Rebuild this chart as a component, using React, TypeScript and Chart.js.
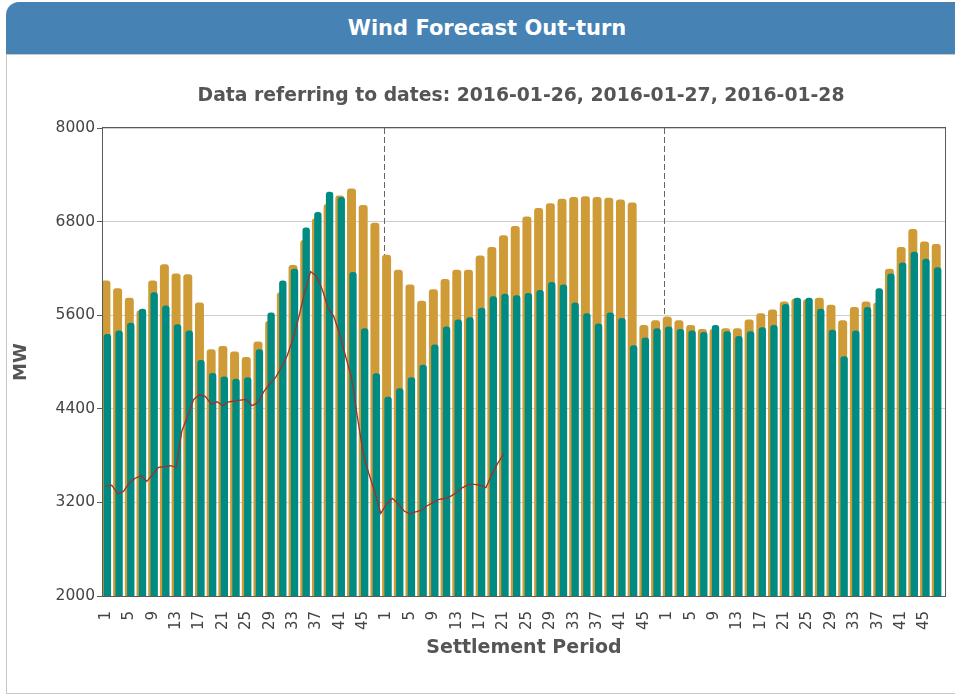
import React, { useEffect, useRef } from 'react';
import { Chart, registerables } from 'chart.js';

Chart.register(...registerables);

const TITLE = 'Wind Forecast Out-turn';
const DATES = ['2016-01-26', '2016-01-27', '2016-01-28'];
const SUBTITLE = 'Data referring to dates: ' + DATES.join(', ');
const X_TITLE = 'Settlement Period';
const Y_TITLE = 'MW';
const PERIODS_PER_DAY = 48;
const Y_MIN = 2000;
const Y_MAX = 8000;
const Y_STEP = 1200;

// Hourly bars are reported on the odd settlement periods
const BAR_PERIODS = [1, 3, 5, 7, 9, 11, 13, 15, 17, 19, 21, 23, 25, 27, 29, 31, 33, 35, 37, 39, 41, 43, 45, 47];
// Period labels shown on the axis for every day
const TICK_PERIODS = [1, 5, 9, 13, 17, 21, 25, 29, 33, 37, 41, 45];

// Forecast (orange)
const forecastDay1 = [6040, 5940, 5820, 5660, 6040, 6250, 6130, 6120, 5760, 5160, 5200, 5130, 5060, 5260, 5520, 5890, 6240, 6560, 6840, 7020, 7130, 7220, 7010, 6780];
const forecastDay2 = [6370, 6180, 5990, 5780, 5930, 6060, 6180, 6180, 6360, 6470, 6620, 6740, 6860, 6970, 7030, 7090, 7110, 7120, 7110, 7100, 7080, 7040, 5470, 5530];
const forecastDay3 = [5580, 5530, 5470, 5420, 5420, 5430, 5430, 5540, 5620, 5670, 5770, 5810, 5800, 5820, 5730, 5530, 5700, 5770, 5760, 6190, 6470, 6700, 6540, 6510];

// Out-turn (teal)
const outturnDay1 = [5355, 5400, 5500, 5680, 5890, 5720, 5480, 5400, 5020, 4855, 4810, 4780, 4800, 5160, 5630, 6040, 6190, 6720, 6920, 7180, 7110, 6150, 5430, 4850];
const outturnDay2 = [4550, 4660, 4800, 4960, 5220, 5450, 5540, 5570, 5690, 5840, 5870, 5850, 5880, 5920, 6020, 5990, 5760, 5620, 5490, 5630, 5560, 5210, 5310, 5430];
const outturnDay3 = [5450, 5420, 5400, 5380, 5470, 5390, 5330, 5390, 5440, 5470, 5740, 5820, 5820, 5680, 5410, 5070, 5400, 5700, 5940, 6130, 6270, 6410, 6320, 6210];

// Half-hourly line (red), periods 1.. of each day
const lineDay1 = [3410, 3420, 3310, 3340, 3450, 3510, 3540, 3470, 3560, 3650, 3660, 3670, 3650, 4120, 4310, 4520, 4580, 4560, 4460, 4490, 4440, 4490, 4500, 4510, 4520, 4440, 4480, 4620, 4720, 4800, 4930, 5080, 5300, 5580, 5900, 6160, 6100, 5930, 5690, 5580, 5350, 5070, 4800, 4300, 3830, 3560, 3330, 3060];
const lineDay2 = [3180, 3250, 3180, 3090, 3050, 3080, 3100, 3160, 3200, 3240, 3250, 3280, 3330, 3390, 3430, 3430, 3420, 3390, 3560, 3700, 3820];

const COLOR_FORECAST = '#CF9B36';
const COLOR_OUTTURN = '#008B82';
const COLOR_LINE = '#A0302B';
const TEXT_FONT = '"DejaVu Sans", Verdana, sans-serif';

const periodIndex = (day: number, period: number) => day * PERIODS_PER_DAY + period - 1;

const barPoints = (days: number[][]) =>
  days.flatMap((vals, d) => vals.map((v, i) => ({ x: periodIndex(d, BAR_PERIODS[i]), y: v })));

const linePoints = (days: number[][]) =>
  days.flatMap((vals, d) => vals.map((v, i) => ({ x: periodIndex(d, i + 1), y: v })));

const TOTAL_PERIODS = DATES.length * PERIODS_PER_DAY;
const TICK_VALUES = DATES.flatMap((_, d) => TICK_PERIODS.map((p) => periodIndex(d, p)));

const subtitlePlugin = {
  id: 'subtitleText',
  afterDraw(chart: any) {
    const { ctx, chartArea } = chart;
    ctx.save();
    ctx.font = `bold 18.8px ${TEXT_FONT}`;
    ctx.fillStyle = '#555555';
    ctx.textAlign = 'center';
    ctx.textBaseline = 'middle';
    ctx.fillText(SUBTITLE, (chartArea.left + chartArea.right) / 2 - 3, 41);
    ctx.restore();
  },
};

const dayLinesPlugin = {
  id: 'dayLines',
  beforeDatasetsDraw(chart: any) {
    const { ctx, chartArea, scales } = chart;
    ctx.save();
    ctx.strokeStyle = '#666666';
    ctx.lineWidth = 1;
    ctx.setLineDash([6, 3]);
    for (let d = 1; d < DATES.length; d++) {
      const x = Math.round(scales.x.getPixelForValue(d * PERIODS_PER_DAY - 0.5)) + 0.5;
      ctx.beginPath();
      ctx.moveTo(x, chartArea.top);
      ctx.lineTo(x, chartArea.bottom);
      ctx.stroke();
    }
    ctx.restore();
  },
};

const framePlugin = {
  id: 'frame',
  afterDatasetsDraw(chart: any) {
    const { ctx, chartArea } = chart;
    const l = Math.round(chartArea.left) - 0.5;
    const t = Math.round(chartArea.top) - 0.5;
    const r = Math.round(chartArea.right) + 0.5;
    const b = Math.round(chartArea.bottom) + 0.5;
    ctx.save();
    ctx.strokeStyle = '#5a5a5a';
    ctx.lineWidth = 1;
    ctx.strokeRect(l, t, r - l, b - t);
    ctx.restore();
  },
};

export default function App() {
  const ref = useRef<HTMLCanvasElement>(null);

  useEffect(() => {
    const chart = new Chart(ref.current as HTMLCanvasElement, {
      type: 'bar',
      data: {
        datasets: [
          {
            type: 'line',
            label: 'Out-turn (half-hourly)',
            data: linePoints([lineDay1, lineDay2]),
            xAxisID: 'x',
            borderColor: COLOR_LINE,
            borderWidth: 1.3,
            pointRadius: 0,
            tension: 0,
            order: 0,
          } as any,
          {
            label: 'Out-turn',
            data: barPoints([outturnDay1, outturnDay2, outturnDay3]),
            xAxisID: 'x2',
            backgroundColor: COLOR_OUTTURN,
            barThickness: 6.7,
            grouped: false,
            borderRadius: 3,
            borderSkipped: 'start',
            order: 1,
          },
          {
            label: 'Forecast',
            data: barPoints([forecastDay1, forecastDay2, forecastDay3]),
            xAxisID: 'x',
            backgroundColor: COLOR_FORECAST,
            barThickness: 8.3,
            grouped: false,
            borderRadius: 3,
            borderSkipped: 'start',
            order: 2,
          },
        ],
      },
      options: {
        animation: false,
        responsive: false,
        devicePixelRatio: 1,
        layout: { padding: { top: 73, right: 10, left: 0, bottom: 0 } },
        plugins: {
          legend: { display: false },
          tooltip: { enabled: false },
          title: { display: false },
        },
        scales: {
          x: {
            type: 'linear',
            offset: false,
            min: -0.5,
            max: TOTAL_PERIODS - 0.5,
            afterBuildTicks: (s: any) => {
              s.ticks = TICK_VALUES.map((v) => ({ value: v }));
            },
            afterFit: (s: any) => {
              s.height = 97;
            },
            grid: {
              display: true,
              drawOnChartArea: false,
              drawTicks: true,
              tickLength: 5,
              tickColor: 'rgba(0,0,0,0)',
            },
            border: { display: false },
            ticks: {
              autoSkip: false,
              minRotation: 90,
              maxRotation: 90,
              padding: 10,
              color: '#444444',
              font: { family: TEXT_FONT, size: 15 },
              callback: (v: any) => String((Number(v) % PERIODS_PER_DAY) + 1),
            },
            title: {
              display: true,
              text: X_TITLE,
              color: '#555555',
              font: { family: TEXT_FONT, size: 19, weight: 'bold' },
              padding: { top: 0, bottom: 34 },
            },
          },
          x2: {
            type: 'linear',
            display: false,
            offset: false,
            min: -0.75,
            max: TOTAL_PERIODS - 0.75,
            ticks: { stepSize: TOTAL_PERIODS },
          },
          y: {
            min: Y_MIN,
            max: Y_MAX,
            afterFit: (s: any) => {
              s.width = 96;
            },
            border: { display: false },
            grid: { color: '#cfcfcf', tickColor: '#5a5a5a', tickLength: 6 },
            ticks: {
              stepSize: Y_STEP,
              padding: 2,
              color: '#444444',
              font: { family: TEXT_FONT, size: 15.5 },
              callback: (v: any) => String(v),
            },
            title: {
              display: true,
              text: Y_TITLE,
              color: '#555555',
              font: { family: TEXT_FONT, size: 18, weight: 'bold' },
              padding: { top: 4, bottom: 0 },
            },
          },
        },
      } as any,
      plugins: [subtitlePlugin, dayLinesPlugin, framePlugin],
    });
    return () => chart.destroy();
  }, []);

  return (
    <div
      style={{
        position: 'absolute',
        left: 0,
        top: 0,
        width: 955,
        height: 696,
        overflow: 'hidden',
        background: '#ffffff',
      }}
    >
      <div
        style={{
          position: 'absolute',
          left: 6,
          top: 2,
          width: 962,
          height: 52,
          background: '#4682B4',
          borderRadius: '13px 13px 0 0',
          color: '#ffffff',
          font: `bold 21px ${TEXT_FONT}`,
          textAlign: 'center',
          lineHeight: '52px',
        }}
      >
        {TITLE}
      </div>
      <div
        style={{
          position: 'absolute',
          left: 6,
          top: 54,
          width: 962,
          height: 640,
          boxSizing: 'border-box',
          border: '1px solid #c8c8c8',
          background: '#ffffff',
        }}
      >
        <canvas ref={ref} width={948} height={638} style={{ display: 'block' }} />
      </div>
    </div>
  );
}
